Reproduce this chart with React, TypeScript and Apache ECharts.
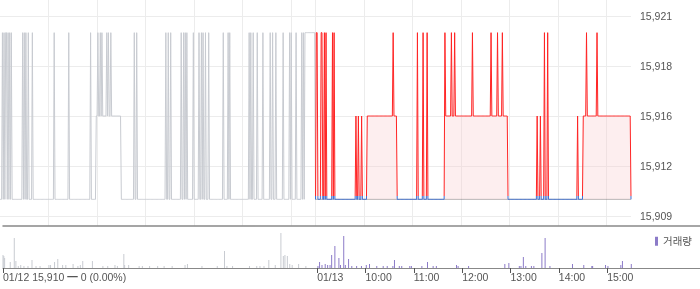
import React, { useEffect, useRef } from 'react';
import * as echarts from 'echarts';

const BASE = 15910;
const HIGH = 15920;
const MID = 15915;
const SESSION_MINUTES = 390;

const priceTickValues = [15909, 15912, 15915, 15918, 15921];
const priceTickLabels = ['15,909', '15,912', '15,916', '15,918', '15,921'];

const timeTickValues = [0, 390, 450, 510, 570, 630, 690, 750];
const timeTickLabels = ['01/12 15,910 ━ 0 (0.00%)', '01/13', '10:00', '11:00', '12:00', '13:00', '14:00', '15:00'];
const gridTimeValues = [60, 120, 180, 240, 300, 360, 390, 450, 510, 570, 630, 690, 750];

// [startMinute, endMinute, price] from 09:00 of each day; other minutes are at BASE
const day1Runs: [number, number, number][] = [
  [3, 3, HIGH], [5, 5, HIGH], [7, 8, HIGH], [10, 10, HIGH], [12, 12, HIGH], [14, 14, HIGH],
  [28, 28, HIGH], [30, 30, HIGH], [32, 32, HIGH], [35, 35, HIGH], [40, 40, HIGH],
  [67, 67, HIGH], [85, 85, HIGH], [112, 112, HIGH],
  [119, 120, MID], [121, 121, HIGH], [122, 123, MID], [124, 124, HIGH], [125, 125, MID], [126, 126, HIGH],
  [127, 131, MID], [132, 132, HIGH], [133, 133, MID], [134, 134, HIGH], [135, 136, MID], [137, 137, HIGH], [138, 149, MID],
  [166, 166, HIGH], [169, 169, HIGH],
  [205, 205, HIGH], [208, 208, HIGH], [211, 211, HIGH],
  [224, 224, HIGH], [227, 227, HIGH], [229, 229, HIGH], [231, 231, HIGH], [239, 239, HIGH],
  [246, 246, HIGH], [249, 249, HIGH], [251, 251, HIGH], [254, 254, HIGH], [258, 258, HIGH],
  [276, 276, HIGH], [282, 282, HIGH], [284, 284, HIGH],
  [308, 308, HIGH], [310, 310, HIGH], [313, 313, HIGH], [318, 318, HIGH], [325, 325, HIGH],
  [334, 334, HIGH], [337, 337, HIGH], [341, 341, HIGH], [350, 350, HIGH], [358, 358, HIGH], [360, 360, HIGH],
  [366, 366, HIGH], [373, 373, HIGH], [375, 375, HIGH], [377, 389, HIGH],
];

const day2Runs: [number, number, number][] = [
  [1, 2, HIGH], [7, 8, HIGH], [11, 11, HIGH], [13, 13, HIGH], [21, 21, HIGH], [23, 23, HIGH],
  [50, 50, MID], [53, 53, MID], [57, 57, MID],
  [64, 95, MID], [96, 96, HIGH], [97, 100, MID],
  [126, 126, HIGH], [133, 133, HIGH], [138, 138, HIGH],
  [160, 160, HIGH], [161, 167, MID], [168, 168, HIGH], [169, 171, MID], [172, 172, HIGH], [173, 193, MID],
  [194, 194, HIGH], [195, 216, MID], [217, 217, HIGH], [218, 224, MID], [225, 225, HIGH], [226, 230, MID],
  [231, 231, HIGH], [232, 237, MID],
  [274, 274, MID], [278, 278, MID], [283, 283, HIGH], [287, 287, HIGH],
  [324, 324, MID],
  [331, 334, MID], [335, 335, HIGH], [336, 347, MID], [348, 348, HIGH], [349, 389, MID],
];

// [minute since 01/12 09:00, volume]
const day1Volume: [number, number][] = [
  [0, 130], [1, 120], [2, 100], [9, 60], [14, 300], [16, 70], [19, 20], [22, 30], [26, 20], [31, 20],
  [36, 80], [41, 20], [46, 20], [57, 30], [59, 30], [64, 60], [68, 90], [74, 30], [78, 30], [87, 40],
  [93, 20], [96, 30], [99, 70], [111, 70], [124, 20], [130, 20], [139, 30], [142, 20], [150, 140],
  [151, 30], [156, 30], [169, 20], [173, 20], [182, 20], [192, 20], [200, 20], [210, 20], [226, 30],
  [229, 40], [247, 20], [266, 20], [275, 170], [278, 20], [285, 20], [306, 20], [315, 20], [319, 20],
  [324, 20], [330, 80], [338, 30], [345, 350], [348, 120], [350, 130], [353, 120], [356, 40], [359, 30],
  [367, 40], [376, 20],
];

const day2Volume: [number, number][] = [
  [391, 20], [393, 60], [396, 30], [400, 40], [403, 30], [406, 30], [408, 130], [412, 220], [417, 100],
  [419, 30], [423, 320], [425, 30], [429, 90], [433, 20], [439, 20], [445, 20], [451, 30], [455, 40],
  [464, 20], [472, 20], [477, 20], [484, 20], [486, 80], [492, 20], [495, 20], [505, 20], [507, 20],
  [520, 20], [527, 60], [534, 20], [538, 20], [563, 30], [565, 20], [578, 20], [623, 40], [628, 50],
  [641, 20], [643, 20], [646, 110], [649, 20], [656, 20], [659, 20], [669, 150], [673, 300], [679, 20],
  [707, 40], [721, 30], [731, 20], [732, 20], [748, 30], [751, 20], [767, 30], [769, 70], [780, 40],
];

function buildDay(runs: [number, number, number][], offset: number) {
  const vals: number[] = new Array(SESSION_MINUTES + 1).fill(BASE);
  runs.forEach(([s, e, p]) => {
    for (let m = s; m <= e; m++) vals[m] = p;
  });
  return vals.map((v, i) => [offset + i, v]);
}

const FONT = "'Liberation Sans', 'Noto Sans CJK KR', sans-serif";
const FS = 10.5;

export default function App() {
  const ref = useRef<HTMLDivElement>(null);
  useEffect(() => {
    if (!ref.current) return;
    const chart = echarts.init(ref.current, undefined, { renderer: 'svg' });
    const xMax = 780;
    const volXMax = (780 * 700) / 631;
    chart.setOption({
      animation: false,
      textStyle: { fontFamily: FONT },
      grid: [
        { left: 0, top: 0, width: 631, height: 226 },
        { left: 0, top: 226, width: 700, height: 42 },
      ],
      legend: {
        data: ['거래량'],
        left: 650,
        top: 231,
        icon: 'rect',
        itemWidth: 3,
        itemHeight: 9,
        textStyle: { fontSize: FS, color: '#555', fontFamily: FONT },
        selectedMode: false,
      },
      visualMap: {
        type: 'piecewise',
        show: false,
        seriesIndex: 2,
        dimension: 1,
        pieces: [
          { lt: BASE + 0.2, color: '#3d6fd1' },
          { gte: BASE + 0.2, lte: BASE + 20, color: '#ff2424' },
          { gt: BASE + 20, color: '#ff2424' },
        ],
      },
      xAxis: [
        {
          type: 'value', gridIndex: 0, min: 0, max: xMax,
          axisLine: { show: false },
          axisTick: { show: false, customValues: gridTimeValues },
          axisLabel: { show: false },
          splitLine: { show: true, lineStyle: { color: '#ececec', width: 1 } },
        },
        {
          type: 'value', gridIndex: 1, min: 0, max: volXMax, position: 'bottom',
          axisLine: { show: true, lineStyle: { color: '#888', width: 1 } },
          axisTick: { show: true, length: 5, customValues: timeTickValues, lineStyle: { color: '#555' } },
          axisLabel: {
            show: true, customValues: timeTickValues, align: 'left', margin: 4,
            fontSize: FS, color: '#555', fontFamily: FONT,
            formatter: (v: number) => {
              const i = timeTickValues.indexOf(Math.round(v));
              return i >= 0 ? timeTickLabels[i] : '';
            },
          },
          splitLine: { show: false },
        },
        {
          type: 'value', gridIndex: 1, min: 0, max: volXMax, position: 'top',
          axisLine: { show: true, lineStyle: { color: '#888', width: 1.5 } },
          axisTick: { show: false },
          axisLabel: { show: false },
          splitLine: { show: false },
        },
      ],
      yAxis: [
        {
          type: 'value', gridIndex: 0, position: 'right', min: 15908.4, max: 15921.96,
          axisLine: { show: false },
          axisTick: { show: false, customValues: priceTickValues },
          axisLabel: {
            show: true, customValues: priceTickValues, margin: 9,
            fontSize: FS, color: '#555', fontFamily: FONT,
            formatter: (v: number) => {
              const i = priceTickValues.indexOf(Math.round(v));
              return i >= 0 ? priceTickLabels[i] : '';
            },
          },
          splitLine: { show: true, lineStyle: { color: '#ececec', width: 1 } },
        },
        {
          type: 'value', gridIndex: 1, min: 0, max: 420, show: false,
        },
      ],
      series: [
        {
          type: 'line', xAxisIndex: 0, yAxisIndex: 0, z: 1,
          data: [[SESSION_MINUTES, BASE], [2 * SESSION_MINUTES, BASE]],
          symbol: 'none', silent: true,
          lineStyle: { color: '#666', width: 1, type: [1, 1] },
        },
        {
          type: 'line', xAxisIndex: 0, yAxisIndex: 0, z: 2,
          data: buildDay(day1Runs, 0),
          symbol: 'none', silent: true,
          lineStyle: { color: '#c8cbd1', width: 1 },
        },
        {
          type: 'line', xAxisIndex: 0, yAxisIndex: 0, z: 3,
          data: buildDay(day2Runs, SESSION_MINUTES),
          symbol: 'none', silent: true,
          lineStyle: { width: 1 },
          areaStyle: { color: 'rgba(250, 200, 205, 0.45)', origin: BASE },
        },
        {
          type: 'bar', xAxisIndex: 1, yAxisIndex: 1,
          data: day1Volume, barWidth: 1, barGap: '-100%', silent: true,
          itemStyle: { color: '#c8cbd1' },
        },
        {
          name: '거래량', type: 'bar', xAxisIndex: 1, yAxisIndex: 1,
          data: day2Volume, barWidth: 1, barGap: '-100%', silent: true,
          itemStyle: { color: '#8c7bc8' },
        },
      ],
    });
    return () => chart.dispose();
  }, []);
  return <div ref={ref} style={{ position: 'fixed', left: 0, top: 0, width: 700, height: 289 }} />;
}
